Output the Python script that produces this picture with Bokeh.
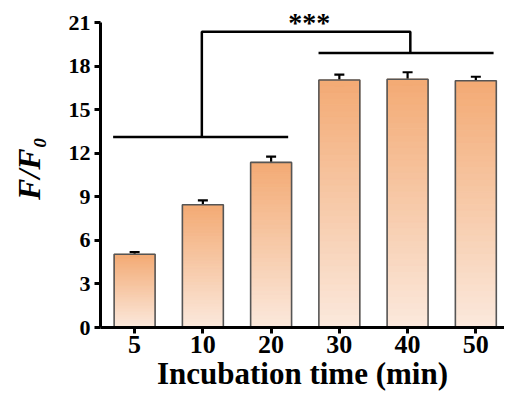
import numpy as np
from bokeh.plotting import figure
from bokeh.models import (Range1d, FixedTicker, ColumnDataSource, Whisker, TeeHead)
from bokeh.core.properties import value
from bokeh.embed import file_html
from bokeh.resources import INLINE

# ---- data ----
categories = ["5", "10", "20", "30", "40", "50"]
values = [5.04, 8.45, 11.37, 17.04, 17.10, 16.99]
errors = [0.15, 0.30, 0.40, 0.37, 0.48, 0.28]
y_ticks = [0, 3, 6, 9, 12, 15, 18, 21]

# significance bracket (x in bar-slot units, y in data units)
left_bar_x = [0.185, 2.75]
left_bar_y = 13.12
right_bar_x = [3.195, 5.76]
right_bar_y = 18.9
connector_left_x = 1.485
connector_right_x = 4.54
connector_top_y = 20.36
star_label = "***"
star_x = 3.06
star_y = 21.0

FONT = "Liberation Serif"
top_rgb = np.array([243, 170, 116])
bot_rgb = np.array([251, 233, 221])

xs = [i + 0.5 for i in range(len(categories))]
bar_w = 0.6

p = figure(width=504, height=400, output_backend="svg", toolbar_location=None,
           x_range=Range1d(0, 5.92), y_range=Range1d(0, 21.9),
           min_border_left=100, min_border_right=0, min_border_top=9, min_border_bottom=73)
p.outline_line_color = None
p.grid.visible = False
p.background_fill_color = "white"

# gradient bars
n = 40
gl, gr, gb, gt, gc = [], [], [], [], []
for x, v in zip(xs, values):
    for k in range(n):
        f0 = k / n
        f1 = (k + 1) / n
        t = (f0 + f1) / 2
        c = bot_rgb + (top_rgb - bot_rgb) * t
        gl.append(x - bar_w / 2); gr.append(x + bar_w / 2)
        gb.append(v * f0); gt.append(v * f1)
        gc.append("#%02x%02x%02x" % tuple(int(round(ci)) for ci in c))
p.quad(left=gl, right=gr, bottom=gb, top=gt, fill_color=gc, line_color=gc, line_width=1)
p.quad(left=[x - bar_w / 2 for x in xs], right=[x + bar_w / 2 for x in xs],
       bottom=0, top=values, fill_color=None, line_color="#555555", line_width=1.6)

# error bars
src = ColumnDataSource(dict(x=xs, lo=[v - e for v, e in zip(values, errors)],
                            hi=[v + e for v, e in zip(values, errors)]))
w = Whisker(base="x", lower="lo", upper="hi", source=src, line_width=2.2, line_color="black",
            upper_head=TeeHead(size=10, line_width=2.2, line_color="black"),
            lower_head=TeeHead(size=10, line_width=2.2, line_color="black"))
p.add_layout(w)

# significance bracket
p.line(x=left_bar_x, y=[left_bar_y] * 2, line_color="black", line_width=2.5)
p.line(x=right_bar_x, y=[right_bar_y] * 2, line_color="black", line_width=2.5)
p.line(x=[connector_left_x, connector_left_x, connector_right_x, connector_right_x],
       y=[left_bar_y, connector_top_y, connector_top_y, right_bar_y],
       line_color="black", line_width=2.5)
p.text(x=[star_x], y=[star_y], text=[star_label], text_font=value(FONT),
       text_font_style="bold", text_font_size="28px", text_align="center",
       text_baseline="middle", text_color="black")

# axes
for ax in (p.xaxis[0], p.yaxis[0]):
    ax.axis_line_width = 3
    ax.major_tick_line_width = 3
    ax.major_tick_in = 0
    ax.major_tick_out = 6
    ax.minor_tick_line_color = None
    ax.major_label_text_font = FONT
    ax.major_label_text_font_style = "bold"
    ax.major_label_text_color = "black"
    ax.axis_label_text_font = FONT
    ax.axis_label_text_color = "black"

p.xaxis.ticker = FixedTicker(ticks=xs)
p.xaxis.major_label_overrides = {x: c for x, c in zip(xs, categories)}
p.xaxis.major_label_text_font_size = "26px"
p.xaxis.major_label_standoff = 2
p.xaxis.axis_label = "Incubation time (min)"
p.xaxis.axis_label_text_font_style = "bold"
p.xaxis.axis_label_text_font_size = "31px"
p.xaxis.axis_label_standoff = 0

p.yaxis.ticker = FixedTicker(ticks=y_ticks)
p.yaxis.bounds = (0, 21)
p.yaxis.major_label_text_font_size = "22px"
p.yaxis.major_label_standoff = 4
p.yaxis.axis_label = "F/F\u2080"
p.yaxis.axis_label_text_font_style = "bold italic"
p.yaxis.axis_label_text_font_size = "32px"
p.yaxis.axis_label_standoff = 19

open("out.html", "w").write(file_html(p, INLINE))
